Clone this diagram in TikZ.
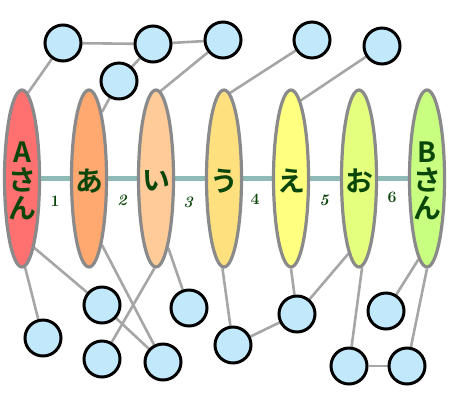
\documentclass[tikz,border=0pt]{standalone}
\usepackage{fontspec}
\newfontfamily\jpfont{Noto Sans CJK JP}[BoldFont={* Bold}]
\usetikzlibrary{shapes.geometric}
\pgfdeclarelayer{bg}
\pgfsetlayers{bg,main}
\definecolor{txtgreen}{HTML}{0A460A}
\definecolor{edgegray}{HTML}{A6A6A6}
\definecolor{pillborder}{HTML}{8A8A8A}
\definecolor{dotfill}{HTML}{C2E8FC}
\definecolor{chain}{RGB}{144,186,182}
\definecolor{cA}{HTML}{FF7070}
\definecolor{cB}{HTML}{FFA870}
\definecolor{cC}{HTML}{FFCB98}
\definecolor{cD}{HTML}{FFE07E}
\definecolor{cE}{HTML}{FFFF80}
\definecolor{cF}{HTML}{E4FF7E}
\definecolor{cG}{HTML}{C8FF80}
\tikzset{
  pill/.style={ellipse, draw=pillborder, line width=3.2bp, minimum width=35bp, minimum height=177bp, inner sep=0pt},
  pilltext/.style={text=txtgreen, font=\jpfont\bfseries\fontsize{28}{28}\selectfont, align=center, inner sep=0pt},
  dot/.style={circle, draw=black, fill=dotfill, line width=3bp, minimum size=36bp, inner sep=0pt},
  link/.style={draw=edgegray, line width=2.6bp},
  chainline/.style={draw=chain, line width=5.5bp},
  numlbl/.style={text=txtgreen, font=\bfseries\fontsize{16}{16}\selectfont, inner sep=0pt}
}
\begin{document}
\begin{tikzpicture}[x=1bp,y=-1bp]
\useasboundingbox (0,0) rectangle (450,400);
% ellipses
\node[pill, fill=cA] (pa) at (22,178.5) {};
\node[pill, fill=cB] (pb) at (89,178.5) {};
\node[pill, fill=cC] (pc) at (156,178.5) {};
\node[pill, fill=cD] (pd) at (224,178.5) {};
\node[pill, fill=cE] (pe) at (291,178.5) {};
\node[pill, fill=cF] (pf) at (359,178.5) {};
\node[pill, fill=cG] (pg) at (427,178.5) {};
\node[pilltext] (ta) at (22,181) {A\\さ\\ん};
\node[pilltext] (tb) at (89,181) {あ};
\node[pilltext] (tc) at (156,181) {い};
\node[pilltext] (td) at (224,181) {う};
\node[pilltext] (te) at (291,181) {え};
\node[pilltext] (tf) at (359,181) {お};
\node[pilltext] (tg) at (427,181) {B\\さ\\ん};
% numbers
\node[numlbl] (n1) at (55,201) {1};
\node[numlbl] (n2) at (122,200) {\itshape 2};
\node[numlbl] (n3) at (188,202) {\itshape 3};
\node[numlbl] (n4) at (255,199) {4};
\node[numlbl] (n5) at (324,200) {\itshape 5};
\node[numlbl] (n6) at (392,197) {6};
% top circles
\node[dot] (c1) at (63,43) {};
\node[dot] (c2) at (153,44) {};
\node[dot] (c3) at (223,40) {};
\node[dot] (c4) at (119,81) {};
\node[dot] (c5) at (312,40) {};
\node[dot] (c6) at (382,46) {};
% bottom circles
\node[dot] (d1) at (43,338) {};
\node[dot] (d2) at (102,305) {};
\node[dot] (d3) at (102,359) {};
\node[dot] (d4) at (163,362) {};
\node[dot] (d5) at (189,308) {};
\node[dot] (d6) at (233,345) {};
\node[dot] (d7) at (297,314) {};
\node[dot] (d8) at (386,311) {};
\node[dot] (d9) at (349,366) {};
\node[dot] (d10) at (407,366) {};
\begin{pgfonlayer}{bg}
% chain through ellipses
\draw[chainline] (pa.center) -- (pg.center);
% top links
\draw[link] (c1) -- (c2);
\draw[link] (c2) -- (c3);
\draw[link] (c1) -- (pa.86);
\draw[link] (c2) -- (c4);
\draw[link] (c4) -- (pb.79);
\draw[link] (c3) -- (pc.87);
\draw[link] (c5) -- (pd.86);
\draw[link] (c6) -- (pe.83);
% bottom links
\draw[link] (pa.-88) -- (d1);
\draw[link] (pa.-80) -- (d2);
\draw[link] (d2) -- (d4);
\draw[link] (pb.-79) -- (d4);
\draw[link] (pc.-91) -- (d3);
\draw[link] (pc.-80) -- (d5);
\draw[link] (pd.-91) -- (d6);
\draw[link] (d6) -- (d7);
\draw[link] (pe.-90) -- (d7);
\draw[link] (pf.-98) -- (d7);
\draw[link] (pf.-88) -- (d9);
\draw[link] (pg.-96) -- (d8);
\draw[link] (pg.-90) -- (d10);
\draw[link] (d9) -- (d10);
\end{pgfonlayer}
\end{tikzpicture}
\end{document}
